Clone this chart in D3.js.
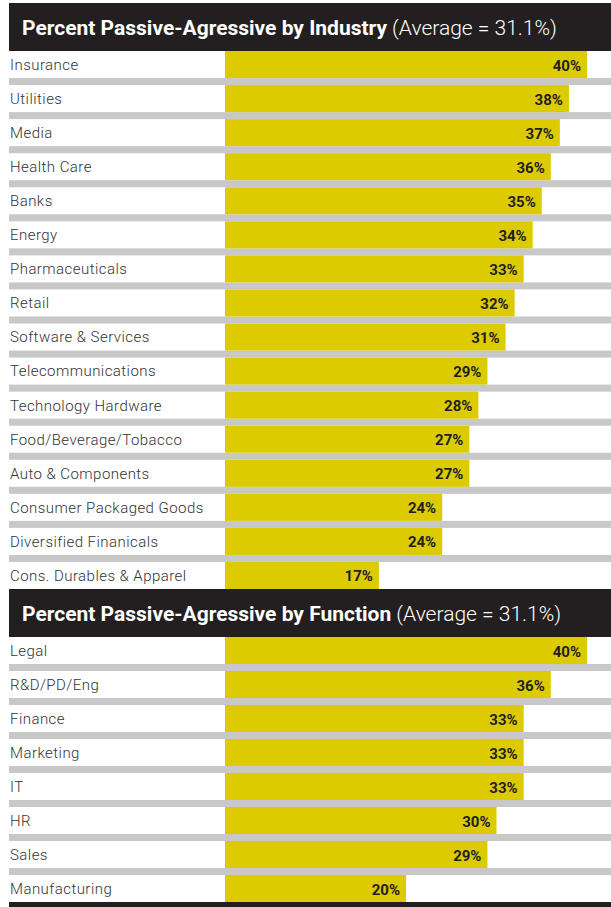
<!DOCTYPE html>
<html>
<head>
<meta charset="utf-8">
<script src="https://cdn.jsdelivr.net/npm/d3@7"></script>
<style>
  body { margin: 0; background: #fff; }
  text { font-family: Roboto, "DejaVu Sans Condensed", sans-serif; }
</style>
</head>
<body>
<div id="chart"></div>
<script>
// industry block
var industries = ["Insurance", "Utilities", "Media", "Health Care", "Banks", "Energy",
  "Pharmaceuticals", "Retail", "Software & Services", "Telecommunications",
  "Technology Hardware", "Food/Beverage/Tobacco", "Auto & Components",
  "Consumer Packaged Goods", "Diversified Finanicals", "Cons. Durables & Apparel"];
var industryValues = [40, 38, 37, 36, 35, 34, 33, 32, 31, 29, 28, 27, 27, 24, 24, 17];

// function block
var functions = ["Legal", "R&D/PD/Eng", "Finance", "Marketing", "IT", "HR", "Sales", "Manufacturing"];
var functionValues = [40, 36, 33, 33, 33, 30, 29, 20];

var titles = ["Percent Passive-Agressive by Industry", "Percent Passive-Agressive by Function"];
var average = "(Average = 31.1%)";

var W = 611, H = 907;
var left = 9, barX0 = 225;
var yellow = "#dccb00", dark = "#231f20", gray = "#c8c8c8";

var svg = d3.select("#chart").append("svg").attr("width", W).attr("height", H);

var x = d3.scaleLinear().domain([0, 40]).range([barX0, 587]);

function drawBlock(title, cats, vals, headTop, headBottom, blockBottom) {
  var g = svg.append("g");

  g.append("rect").attr("x", left).attr("y", headTop)
    .attr("width", W - left).attr("height", headBottom - headTop).attr("fill", dark);

  var t = g.append("text").attr("x", 22).attr("y", (headTop + headBottom) / 2 + 7.5)
    .attr("fill", "#fff").attr("font-size", 21);
  t.append("tspan").attr("font-weight", "bold").text(title);
  t.append("tspan").attr("font-weight", 300).text(" " + average);

  var y = d3.scaleBand().domain(cats).range([headBottom, blockBottom])
    .paddingInner(7 / 34).paddingOuter(0);

  var rows = g.selectAll("g.row").data(cats).enter().append("g").attr("class", "row");

  // gray separators between rows
  rows.filter(function(d, i) { return i < cats.length - 1; })
    .append("rect")
    .attr("x", left).attr("width", W - left)
    .attr("y", function(d) { return y(d) + y.bandwidth(); })
    .attr("height", y.step() - y.bandwidth())
    .attr("fill", gray);

  rows.append("rect")
    .attr("x", x(0))
    .attr("y", function(d) { return y(d); })
    .attr("height", y.bandwidth())
    .attr("width", function(d, i) { return x(vals[i]) - x(0); })
    .attr("fill", yellow);

  rows.append("text")
    .attr("x", 10)
    .attr("y", function(d) { return y(d) + y.bandwidth() / 2; })
    .attr("dy", "0.36em")
    .attr("font-size", 15).attr("font-weight", 300).attr("fill", "#333")
    .attr("letter-spacing", 0.45)
    .text(function(d) { return d; });

  rows.append("text")
    .attr("x", function(d, i) { return x(vals[i]) - 6; })
    .attr("y", function(d) { return y(d) + y.bandwidth() / 2; })
    .attr("dy", "0.4em")
    .attr("text-anchor", "end")
    .attr("font-size", 15).attr("font-weight", "bold").attr("fill", dark)
    .text(function(d, i) { return vals[i] + "%"; });
}

drawBlock(titles[0], industries, industryValues, 3, 51, 589);
drawBlock(titles[1], functions, functionValues, 589, 637, 902);

// closing rule at the bottom
svg.append("rect").attr("x", left).attr("y", 902).attr("width", W - left).attr("height", 5).attr("fill", dark);
</script>
</body>
</html>
